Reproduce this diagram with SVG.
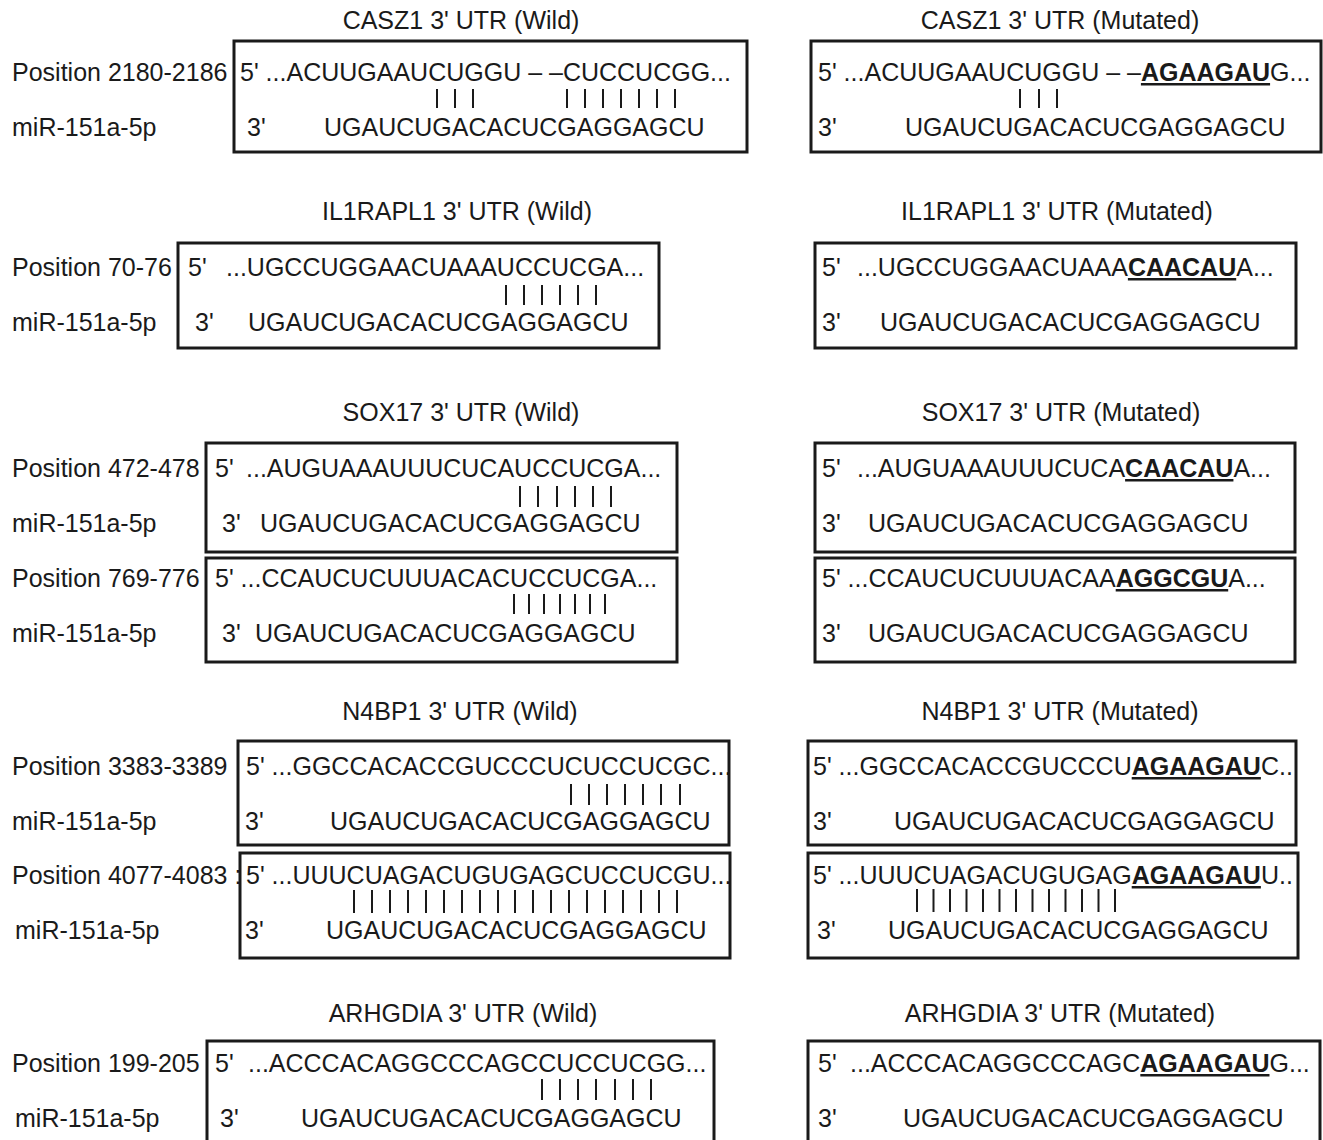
<svg xmlns="http://www.w3.org/2000/svg" width="1323" height="1140" viewBox="0 0 1323 1140">
<style>
text{font-family:"Liberation Sans",Arial,sans-serif;font-size:25px;fill:#1a1a1a}
.ttl{text-anchor:middle}
.b{font-weight:bold;text-decoration:underline;text-decoration-thickness:3px}
.box{fill:none;stroke:#1a1a1a;stroke-width:3}
.bar{stroke:#1a1a1a;stroke-width:2}
</style>
<rect width="1323" height="1140" fill="#fff"/>

<g id="titles">
<text class="ttl" x="461" y="29">CASZ1 3' UTR (Wild)</text>
<text class="ttl" x="1060" y="29">CASZ1 3' UTR (Mutated)</text>
<text class="ttl" x="457" y="220">IL1RAPL1 3' UTR (Wild)</text>
<text class="ttl" x="1057" y="220">IL1RAPL1 3' UTR (Mutated)</text>
<text class="ttl" x="461" y="421">SOX17 3' UTR (Wild)</text>
<text class="ttl" x="1061" y="421">SOX17 3' UTR (Mutated)</text>
<text class="ttl" x="460" y="720">N4BP1 3' UTR (Wild)</text>
<text class="ttl" x="1060" y="720">N4BP1 3' UTR (Mutated)</text>
<text class="ttl" x="463" y="1022">ARHGDIA 3' UTR (Wild)</text>
<text class="ttl" x="1060" y="1022">ARHGDIA 3' UTR (Mutated)</text>
</g>

<g id="casz1-wild">
<text x="12" y="81">Position 2180-2186</text>
<text x="12" y="136">miR-151a-5p</text>
<rect class="box" x="234" y="41" width="513" height="111"/>
<text x="240" y="81">5' ...ACUUGAAUCUGGU – –CUCCUCGG...</text>
<text x="247" y="136">3'</text>
<text x="324" y="136">UGAUCUGACACUCGAGGAGCU</text>
</g>
<g id="casz1-mut">
<rect class="box" x="811" y="41" width="510" height="111"/>
<text x="818" y="81">5' ...ACUUGAAUCUGGU – –<tspan class="b">AGAAGAU</tspan>G...</text>
<text x="818" y="136">3'</text>
<text x="905" y="136">UGAUCUGACACUCGAGGAGCU</text>
</g>

<g id="il1rapl1-wild">
<text x="12" y="276">Position 70-76</text>
<text x="12" y="331">miR-151a-5p</text>
<rect class="box" x="178" y="243" width="481" height="105"/>
<text x="188" y="276">5'</text>
<text x="226" y="276">...UGCCUGGAACUAAAUCCUCGA...</text>
<text x="195" y="331">3'</text>
<text x="248" y="331">UGAUCUGACACUCGAGGAGCU</text>
</g>
<g id="il1rapl1-mut">
<rect class="box" x="815" y="243" width="481" height="105"/>
<text x="822" y="276">5'</text>
<text x="857" y="276">...UGCCUGGAACUAAA<tspan class="b">CAACAU</tspan>A...</text>
<text x="822" y="331">3'</text>
<text x="880" y="331">UGAUCUGACACUCGAGGAGCU</text>
</g>

<g id="sox17-wild">
<text x="12" y="477">Position 472-478</text>
<text x="12" y="532">miR-151a-5p</text>
<text x="12" y="587">Position 769-776</text>
<text x="12" y="642">miR-151a-5p</text>
<rect class="box" x="206" y="443" width="471" height="109"/>
<rect class="box" x="206" y="558" width="471" height="104"/>
<text x="215" y="477">5'</text>
<text x="246" y="477">...AUGUAAAUUUCUCAUCCUCGA...</text>
<text x="222" y="532">3'</text>
<text x="260" y="532">UGAUCUGACACUCGAGGAGCU</text>
<text x="215" y="587">5' ...CCAUCUCUUUACACUCCUCGA...</text>
<text x="222" y="642">3'</text>
<text x="255" y="642">UGAUCUGACACUCGAGGAGCU</text>
</g>
<g id="sox17-mut">
<rect class="box" x="815" y="443" width="480" height="109"/>
<rect class="box" x="815" y="558" width="480" height="104"/>
<text x="822" y="477">5'</text>
<text x="857" y="477">...AUGUAAAUUUCUCA<tspan class="b">CAACAU</tspan>A...</text>
<text x="822" y="532">3'</text>
<text x="868" y="532">UGAUCUGACACUCGAGGAGCU</text>
<text x="822" y="587">5' ...CCAUCUCUUUACAA<tspan class="b">AGGCGU</tspan>A...</text>
<text x="822" y="642">3'</text>
<text x="868" y="642">UGAUCUGACACUCGAGGAGCU</text>
</g>

<g id="n4bp1-wild">
<text x="12" y="775">Position 3383-3389</text>
<text x="12" y="830">miR-151a-5p</text>
<text x="12" y="884">Position 4077-4083 :</text>
<text x="15" y="939">miR-151a-5p</text>
<rect class="box" x="238" y="741" width="491" height="104"/>
<rect class="box" x="240" y="853" width="490" height="105"/>
<text x="246" y="775">5' ...GGCCACACCGUCCCUCUCCUCGC...</text>
<text x="245" y="830">3'</text>
<text x="330" y="830">UGAUCUGACACUCGAGGAGCU</text>
<text x="246" y="884">5' ...UUUCUAGACUGUGAGCUCCUCGU...</text>
<text x="245" y="939">3'</text>
<text x="326" y="939">UGAUCUGACACUCGAGGAGCU</text>
</g>
<g id="n4bp1-mut">
<rect class="box" x="808" y="741" width="488" height="104"/>
<rect class="box" x="808" y="853" width="490" height="105"/>
<text x="813" y="775">5' ...GGCCACACCGUCCCU<tspan class="b">AGAAGAU</tspan>C..</text>
<text x="813" y="830">3'</text>
<text x="894" y="830">UGAUCUGACACUCGAGGAGCU</text>
<text x="813" y="884">5' ...UUUCUAGACUGUGAG<tspan class="b">AGAAGAU</tspan>U..</text>
<text x="817" y="939">3'</text>
<text x="888" y="939">UGAUCUGACACUCGAGGAGCU</text>
</g>

<g id="arhgdia-wild">
<text x="12" y="1072">Position 199-205</text>
<text x="15" y="1127">miR-151a-5p</text>
<rect class="box" x="207" y="1041" width="507" height="110"/>
<text x="215" y="1072">5'</text>
<text x="248" y="1072">...ACCCACAGGCCCAGCCUCCUCGG...</text>
<text x="220" y="1127">3'</text>
<text x="301" y="1127">UGAUCUGACACUCGAGGAGCU</text>
</g>
<g id="arhgdia-mut">
<rect class="box" x="808" y="1041" width="512" height="110"/>
<text x="818" y="1072">5'</text>
<text x="850" y="1072">...ACCCACAGGCCCAGC<tspan class="b">AGAAGAU</tspan>G...</text>
<text x="818" y="1127">3'</text>
<text x="903" y="1127">UGAUCUGACACUCGAGGAGCU</text>
</g>

<g id="connectors">
<path class="bar" d="M437 89V108M455 89V108M473 89V108M567 89V108M585 89V108M603 89V108M621 89V108M639 89V108M657 89V108M675 89V108"/>
<path class="bar" d="M1020 89V108M1039 89V108M1057 89V108"/>
<path class="bar" d="M506 285V305M524 285V305M542 285V305M560 285V305M578 285V305M596 285V305"/>
<path class="bar" d="M520 486V507M538 486V507M557 486V507M575 486V507M593 486V507M611 486V507"/>
<path class="bar" d="M514 594V614M529 594V614M544 594V614M560 594V614M575 594V614M590 594V614M605 594V614"/>
<path class="bar" d="M571 784V805M589 784V805M607 784V805M625 784V805M643 784V805M661 784V805M680 784V805"/>
<path class="bar" d="M354 890V913M372 890V913M390 890V913M408 890V913M426 890V913M444 890V913M462 890V913M480 890V913M498 890V913M515 890V913M533 890V913M551 890V913M569 890V913M587 890V913M605 890V913M623 890V913M641 890V913M659 890V913M677 890V913"/>
<path class="bar" d="M917 889V912M933.5 889V912M950 889V912M966.5 889V912M983 889V912M999.5 889V912M1016 889V912M1032.5 889V912M1049 889V912M1065.5 889V912M1082 889V912M1098.5 889V912M1115 889V912"/>
<path class="bar" d="M542 1079V1100M560 1079V1100M578 1079V1100M596 1079V1100M615 1079V1100M633 1079V1100M651 1079V1100"/>
</g>
</svg>
